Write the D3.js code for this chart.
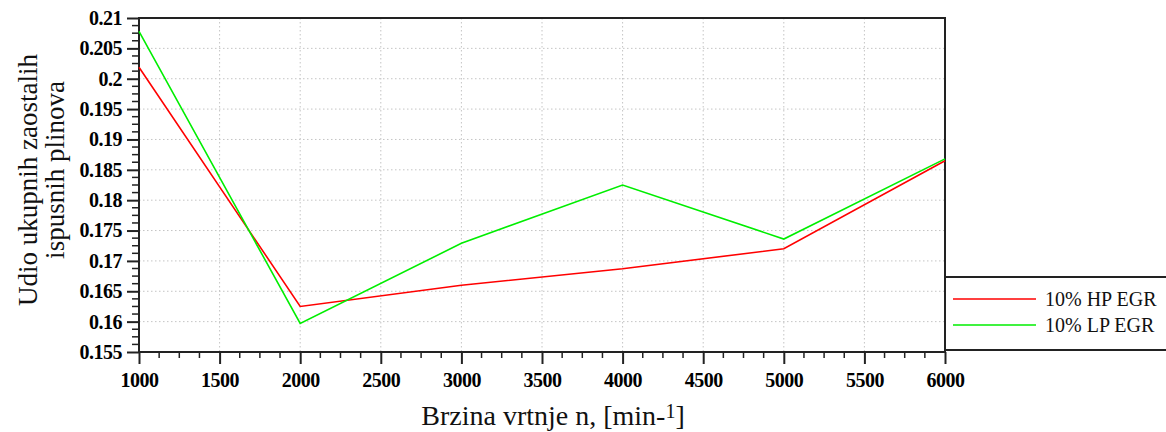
<!DOCTYPE html>
<html><head><meta charset="utf-8">
<script src="https://cdn.jsdelivr.net/npm/d3@7"></script>
<style>body{margin:0;background:#fff;}svg{display:block;}</style>
</head><body>
<svg id="c" width="1166" height="432"></svg>
<script>
const speeds = [1000, 2000, 3000, 4000, 5000, 6000];
const hpEgr = [0.2019, 0.1625, 0.1660, 0.1687, 0.1720, 0.1865];
const lpEgr = [0.2078, 0.1597, 0.1729, 0.1825, 0.1736, 0.1868];
const seriesNames = ["10% HP EGR", "10% LP EGR"];
const seriesColors = ["#ff0000", "#00ee00"];
const xTicks = [1000,1500,2000,2500,3000,3500,4000,4500,5000,5500,6000];
const yTicks = [0.155,0.16,0.165,0.17,0.175,0.18,0.185,0.19,0.195,0.2,0.205,0.21];
const xTitle = ["Brzina vrtnje n, [min-", "1", "]"];
const yTitle = ["Udio ukupnih zaostalih", "ispusnih plinova"];

const svg = d3.select("#c");
const L = 139, R = 945, T = 18, B = 352;
const x = d3.scaleLinear().domain([1000, 6000]).range([L, R]);
const y = d3.scaleLinear().domain([0.155, 0.21]).range([B, T]);
const FF = '"Liberation Serif"';

// grid
const g = svg.append("g");
g.selectAll(".gx").data(xTicks.slice(1, -1)).join("line")
  .attr("x1", d => x(d)).attr("x2", d => x(d)).attr("y1", T).attr("y2", B)
  .attr("stroke", "#c4c4c4").attr("stroke-width", 1).attr("stroke-dasharray", "1.5,2.5");
g.selectAll(".gy").data(yTicks.slice(1, -1)).join("line")
  .attr("y1", d => y(d)).attr("y2", d => y(d)).attr("x1", L).attr("x2", R)
  .attr("stroke", "#c4c4c4").attr("stroke-width", 1).attr("stroke-dasharray", "1.5,2.5");

// minor ticks
const xMinor = d3.range(1000, 6000.1, 125).filter(v => v % 500 !== 0);
const yMinor = d3.range(0, 45).map(i => 0.155 + i * 0.00125).filter((v, i) => i % 4 !== 0);
svg.append("g").selectAll("line").data(xMinor).join("line")
  .attr("x1", d => x(d)).attr("x2", d => x(d)).attr("y1", B).attr("y2", B + 6)
  .attr("stroke", "#222").attr("stroke-width", 1.5);
svg.append("g").selectAll("line").data(yMinor).join("line")
  .attr("y1", d => y(d)).attr("y2", d => y(d)).attr("x1", L - 7).attr("x2", L)
  .attr("stroke", "#222").attr("stroke-width", 1.5);

// axes
const xAxis = d3.axisBottom(x).tickValues(xTicks).tickFormat(d3.format("d")).tickSize(12).tickPadding(9);
const yAxis = d3.axisLeft(y).tickValues(yTicks).tickFormat(d => String(+d.toFixed(3))).tickSize(12).tickPadding(5);
const gx = svg.append("g").attr("transform", `translate(0,${B})`).call(xAxis);
const gy = svg.append("g").attr("transform", `translate(${L},0)`).call(yAxis);
[gx, gy].forEach(a => {
  a.attr("font-family", null).attr("font-size", null);
  a.select(".domain").remove();
  a.selectAll(".tick line").attr("stroke", "#222").attr("stroke-width", 2);
  a.selectAll("text").attr("fill", "#000").style("font-family", FF)
    .style("font-weight", "bold").style("font-size", "20px").attr("letter-spacing", -0.5);
});

// frame
svg.append("rect").attr("x", L).attr("y", T).attr("width", R - L).attr("height", B - T)
  .attr("fill", "none").attr("stroke", "#222").attr("stroke-width", 2);

// lines
const line = d3.line().x((d, i) => x(speeds[i])).y(d => y(d));
[hpEgr, lpEgr].forEach((s, k) => {
  svg.append("path").datum(s).attr("d", line).attr("fill", "none")
    .attr("stroke", seriesColors[k]).attr("stroke-width", 1.6);
});

// legend
const lg = svg.append("g");
lg.append("line").attr("x1", R).attr("x2", 1166).attr("y1", 277).attr("y2", 277).attr("stroke", "#222").attr("stroke-width", 2);
lg.append("line").attr("x1", R).attr("x2", 1166).attr("y1", 350).attr("y2", 350).attr("stroke", "#222").attr("stroke-width", 2);
seriesNames.forEach((n, k) => {
  const yy = 299 + k * 26;
  lg.append("line").attr("x1", 953).attr("x2", 1036).attr("y1", yy).attr("y2", yy)
    .attr("stroke", seriesColors[k]).attr("stroke-width", 1.6);
  lg.append("text").attr("x", 1045).attr("y", yy + 7)
    .style("font-family", FF).style("font-size", "20px").attr("fill", "#111").text(n);
});

// titles
const xt = svg.append("text").attr("x", 553).attr("y", 425).attr("text-anchor", "middle")
  .style("font-family", FF).style("font-size", "28px").attr("fill", "#111");
xt.append("tspan").text(xTitle[0]);
xt.append("tspan").attr("dy", -7).style("font-size", "20px").text(xTitle[1]);
xt.append("tspan").attr("dy", 7).text(xTitle[2]);
yTitle.forEach((t, i) => {
  svg.append("text").attr("transform", `translate(${37 + i * 27},${180 - i * 10}) rotate(-90)`)
    .attr("text-anchor", "middle").style("font-family", FF).style("font-size", "27px")
    .attr("fill", "#111").text(t);
});
</script>
</body></html>
